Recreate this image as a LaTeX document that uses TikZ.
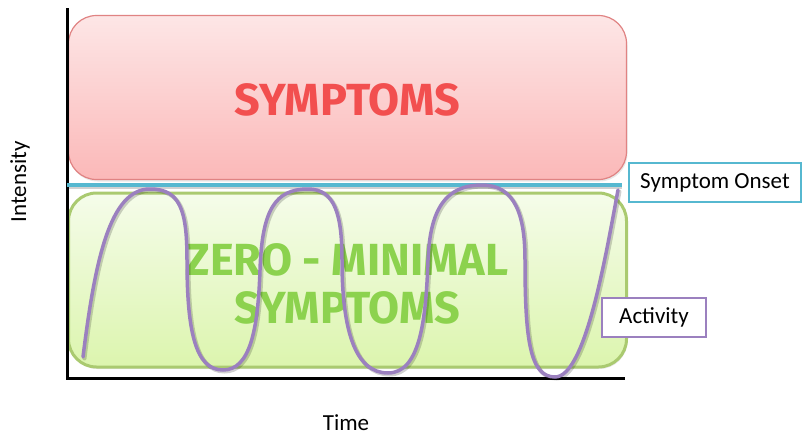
\documentclass[tikz,border=0pt]{standalone}
\usepackage{fontspec}
\setmainfont{Carlito}
\newfontfamily\headfont{Fira Sans}
\usetikzlibrary{shadows}
\definecolor{redtxt}{HTML}{F24F4F}
\definecolor{redtop}{HTML}{FDE6E6}
\definecolor{redbot}{HTML}{FBB8B8}
\definecolor{redline}{HTML}{E08383}
\definecolor{greentxt}{HTML}{8CD24E}
\definecolor{greentop}{HTML}{F5FCEA}
\definecolor{greenbot}{HTML}{DCF5AE}
\definecolor{greenline}{HTML}{AACA70}
\definecolor{onsetblue}{HTML}{56B8D0}
\definecolor{actpurple}{HTML}{9B80BF}
\tikzset{
  zonebox/.style={rounded corners=28pt, inner sep=0pt,
    drop shadow={opacity=0.18, shadow xshift=1pt, shadow yshift=-2pt}},
  redzone/.style={zonebox, draw=redline, line width=1.2pt, top color=redtop, bottom color=redbot},
  greenzone/.style={zonebox, draw=greenline, line width=3pt, top color=greentop, bottom color=greenbot},
  bigtext/.style={font=\headfont\bfseries\fontsize{45}{54}\selectfont, align=center},
  labelbox/.style={draw, line width=2pt, fill=white, inner sep=0pt, font=\fontsize{23}{26}\selectfont},
  axislabel/.style={font=\fontsize{23}{26}\selectfont, inner sep=0pt},
  curveshadow/.style={black, opacity=0.18, line width=4pt, line cap=round},
}
\newcommand{\actcurve}{(83,357) .. controls (95,260) and (110,189) .. (150,189)
  .. controls (180,189) and (187,210) .. (187,260)
  .. controls (187,330) and (195,370) .. (223,370)
  .. controls (250,370) and (258,330) .. (260,270)
  .. controls (262,210) and (275,189) .. (308,189)
  .. controls (335,189) and (342,215) .. (342,260)
  .. controls (342,330) and (355,373) .. (388,373)
  .. controls (420,373) and (426,320) .. (428,260)
  .. controls (430,210) and (445,185) .. (482,185)
  .. controls (515,185) and (525,215) .. (525,260)
  .. controls (525,340) and (530,377) .. (555,377)
  .. controls (585,377) and (605,260) .. (618,190)}
\begin{document}
\begin{tikzpicture}[x=1pt,y=-1pt]
\useasboundingbox (0,0) rectangle (804,437);
% zones
\node[redzone, minimum width=558pt, minimum height=164pt] (sym) at (347.5,97.5) {};
\node[bigtext, text=redtxt] (symtxt) at (347,100) {SYMPTOMS};
\node[greenzone, minimum width=558pt, minimum height=174pt] (zero) at (347.5,280) {};
\node[bigtext, text=greentxt] (zerotxt) at (347,284) {ZERO - MINIMAL\\[-6pt]SYMPTOMS};
% axes
\coordinate (ytop) at (67,8);
\coordinate (orig) at (67,378);
\coordinate (xend) at (625,378);
\draw[line width=3pt] (ytop) -- (orig) -- (xend);
% onset line
\coordinate (onL) at (67,185);
\coordinate (onR) at (622,185);
\draw[curveshadow, line cap=butt] ([yshift=-1.5pt]onL) -- ([yshift=-1.5pt]onR);
\draw[onsetblue, line width=3.5pt] (onL) -- (onR);
% activity curve
\begin{scope}[xshift=1.5pt, yshift=-1.5pt]
\draw[curveshadow] \actcurve;
\end{scope}
\draw[actpurple, line width=3.5pt, line cap=round] \actcurve;
% label boxes
\node[labelbox, draw=onsetblue, minimum width=172pt, minimum height=39pt] (onset) at (715,182.5) {Symptom Onset};
\node[labelbox, draw=actpurple, minimum width=104pt, minimum height=39pt] (act) at (654,317.5) {Activity};
% axis labels
\node[axislabel, rotate=90] (inten) at (20,182) {Intensity};
\node[axislabel] (time) at (346,423) {Time};
\end{tikzpicture}
\end{document}
